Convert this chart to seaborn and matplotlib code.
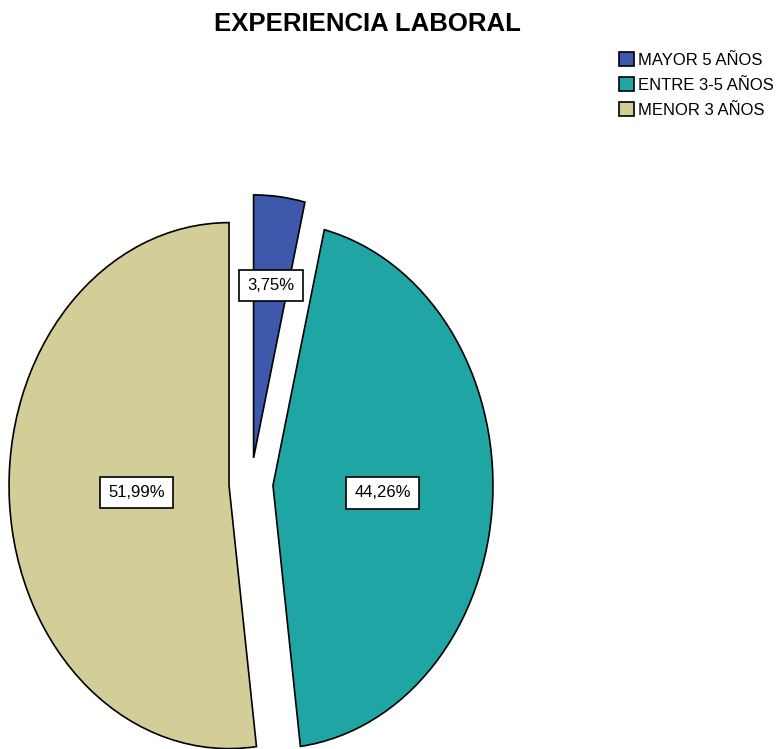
import numpy as np
import matplotlib
matplotlib.use("Agg")
import matplotlib.pyplot as plt
from matplotlib.patches import Patch
import seaborn as sns

# Experience groups and their shares (%)
categories = ["MENOR 3 AÑOS", "ENTRE 3-5 AÑOS", "MAYOR 5 AÑOS"]
shares = [51.99, 44.26, 3.75]
pct_labels = ["51,99%", "44,26%", "3,75%"]
legend_order = ["MAYOR 5 AÑOS", "ENTRE 3-5 AÑOS", "MENOR 3 AÑOS"]

colors = {"MAYOR 5 AÑOS": "#3E58AC",
          "ENTRE 3-5 AÑOS": "#1FA5A3",
          "MENOR 3 AÑOS": "#D3CE98"}

sns.set_style("white")
plt.rcParams["font.family"] = ["Liberation Sans", "DejaVu Sans"]
plt.rcParams["text.color"] = "black"

W, H = 777, 749
fig = plt.figure(figsize=(W / 100, H / 100), dpi=100)
ax = fig.add_axes([0, 0, 1, 1])

wedges, _ = ax.pie(shares, colors=[colors[c] for c in categories],
                   startangle=90, counterclock=True,
                   explode=[0.1, 0.1, 0.1],
                   wedgeprops=dict(edgecolor="black", linewidth=1.2))

# stretch the pie vertically: 220 px per unit across, 263 px per unit down
cx, cy = 251, 749 - 484
rx, ry = 220, 263
ax.set_aspect("auto")
ax.set_xlim(-cx / rx, (W - cx) / rx)
ax.set_ylim(-cy / ry, (H - cy) / ry)
ax.axis("off")

# percentage boxes placed inside each wedge
label_dist = [0.42, 0.50, 0.66]
for w, lab, d in zip(wedges, pct_labels, label_dist):
    mid = np.deg2rad((w.theta1 + w.theta2) / 2)
    x0, y0 = w.center
    ax.text(x0 + d * np.cos(mid), y0 + d * np.sin(mid), lab,
            ha="center", va="center", fontsize=12, color="black",
            bbox=dict(boxstyle="square,pad=0.5", fc="white", ec="black", lw=1.2))

fig.text(367 / W, 1 - 24 / H, "EXPERIENCIA LABORAL", ha="center", va="center",
         fontsize=18.5, fontweight="bold", color="black")

handles = [Patch(facecolor=colors[c], edgecolor="black", linewidth=1.2, label=c)
           for c in legend_order]
fig.legend(handles=handles, loc="upper left", bbox_to_anchor=(617 / W, 1 - 50 / H),
           frameon=False, fontsize=12, handlelength=0.9, handleheight=0.95,
           handletextpad=0.25, labelspacing=0.55, borderaxespad=0, borderpad=0.1,
           labelcolor="black")

fig.savefig("out.png", dpi=100)
